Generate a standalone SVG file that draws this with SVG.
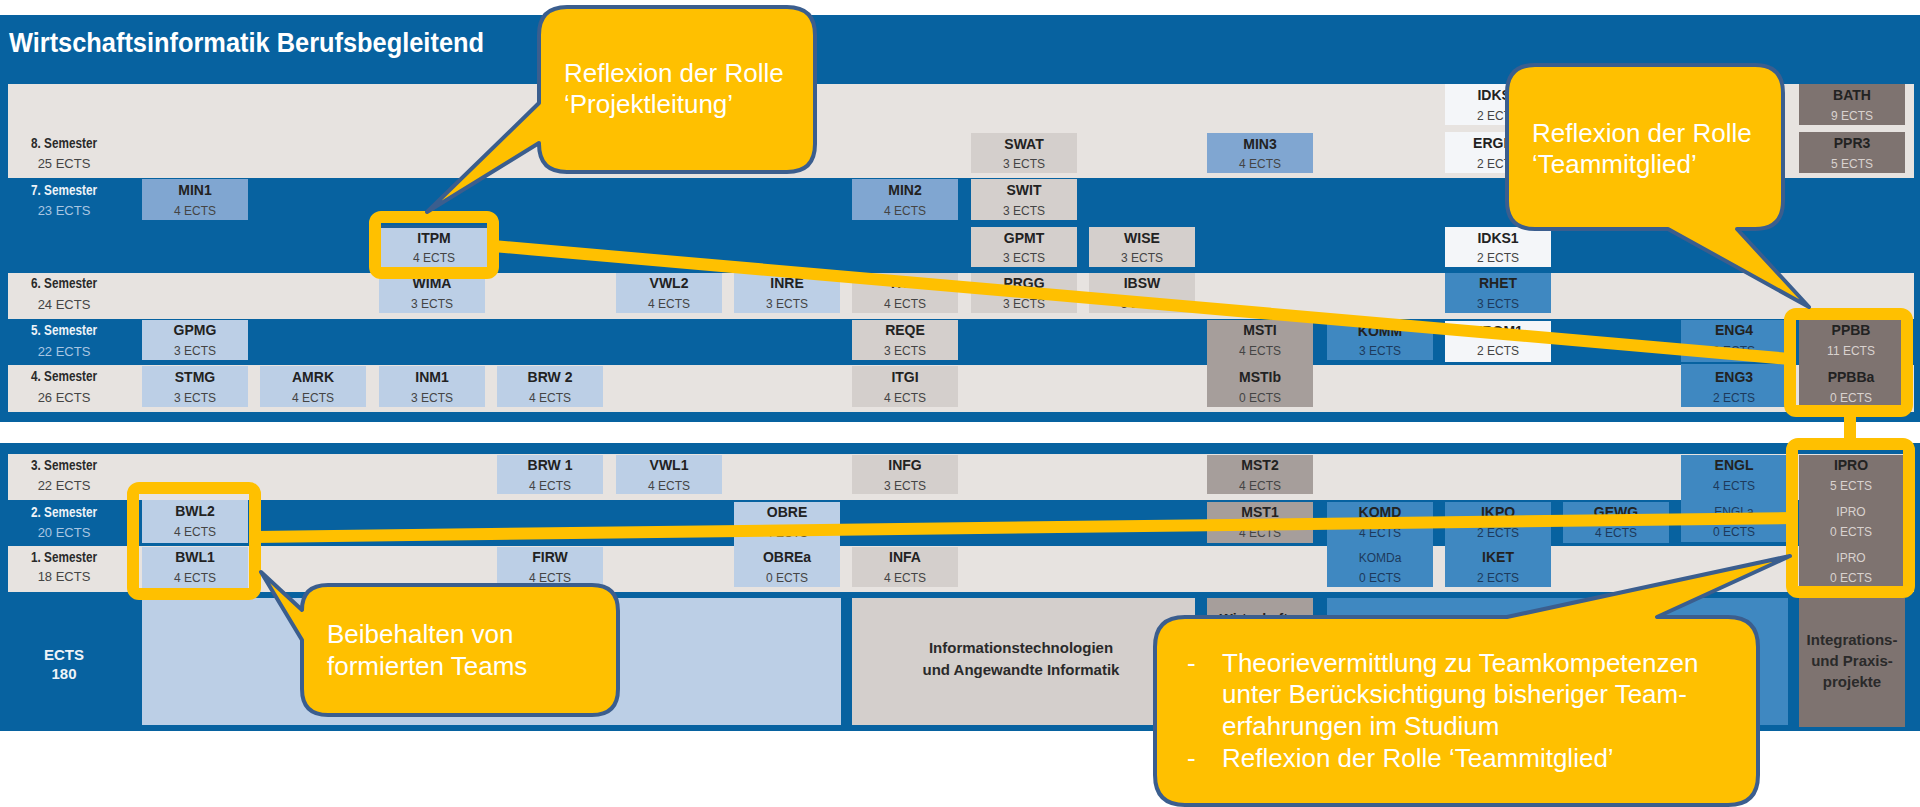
<svg xmlns="http://www.w3.org/2000/svg" width="1920" height="807" viewBox="0 0 1920 807">
<style>
.bg{fill:#0762a0}
.row{fill:#e7e3e0}
.lb{fill:#bccfe6}
.gr{fill:#d4cfcc}
.mb{fill:#80a6d1}
.db{fill:#3f88c1}
.wh{fill:#f4f6f9}
.tp{fill:#a69e9b}
.dt{fill:#7e7370}
.n{font-family:'Liberation Sans',Arial,sans-serif;font-weight:bold;font-size:14px;fill:#222;text-anchor:middle}
.e{font-family:'Liberation Sans',Arial,sans-serif;font-size:12px;fill:#444;text-anchor:middle}
.el{font-family:'Liberation Sans',Arial,sans-serif;font-size:12px;fill:#d9d2cf;text-anchor:middle}
.sn{font-family:'Liberation Sans',Arial,sans-serif;font-weight:bold;font-size:15px;fill:#2a2a2a;text-anchor:middle}
.se{font-family:'Liberation Sans',Arial,sans-serif;font-size:13px;fill:#444;text-anchor:middle}
.snw{font-family:'Liberation Sans',Arial,sans-serif;font-weight:bold;font-size:15px;fill:#eef3f8;text-anchor:middle}
.sew{font-family:'Liberation Sans',Arial,sans-serif;font-size:13px;fill:#a9c6e2;text-anchor:middle}
.big{font-family:'Liberation Sans',Arial,sans-serif;font-weight:bold;font-size:15px;fill:#2a2a2a;text-anchor:middle}
.hl{fill:none;stroke:#ffc000;stroke-width:12}
.conn{stroke:#ffc000;stroke-width:12;fill:none}
.call{fill:#ffc000;stroke:#3b5e8e;stroke-width:4;stroke-linejoin:round}
.ct{font-family:'Liberation Sans',Arial,sans-serif;font-size:26px;fill:#ffffff}
</style>

<!-- panels -->
<g id="panels">
  <rect class="bg" x="0" y="15" width="1920" height="407"/>
  <rect class="bg" x="0" y="443" width="1920" height="288"/>
  <text x="9" y="52" font-family="'Liberation Sans',Arial,sans-serif" font-weight="bold" font-size="28" fill="#ffffff" textLength="475" lengthAdjust="spacingAndGlyphs">Wirtschaftsinformatik Berufsbegleitend</text>
  <rect class="row" x="8" y="84" width="1906" height="94"/>
  <rect class="row" x="8" y="273" width="1906" height="46"/>
  <rect class="row" x="8" y="365" width="1906" height="47"/>
  <rect class="row" x="8" y="454" width="1906" height="46"/>
  <rect class="row" x="8" y="546" width="1906" height="46"/>
</g>

<!-- semester labels -->
<g id="semesters">
  <text class="sn" x="64" y="148" textLength="66" lengthAdjust="spacingAndGlyphs">8. Semester</text><text class="se" x="64" y="168">25 ECTS</text>
  <text class="snw" x="64" y="195" textLength="66" lengthAdjust="spacingAndGlyphs">7. Semester</text><text class="sew" x="64" y="215">23 ECTS</text>
  <text class="sn" x="64" y="288" textLength="66" lengthAdjust="spacingAndGlyphs">6. Semester</text><text class="se" x="64" y="309">24 ECTS</text>
  <text class="snw" x="64" y="335" textLength="66" lengthAdjust="spacingAndGlyphs">5. Semester</text><text class="sew" x="64" y="356">22 ECTS</text>
  <text class="sn" x="64" y="381" textLength="66" lengthAdjust="spacingAndGlyphs">4. Semester</text><text class="se" x="64" y="402">26 ECTS</text>
  <text class="sn" x="64" y="470" textLength="66" lengthAdjust="spacingAndGlyphs">3. Semester</text><text class="se" x="64" y="490">22 ECTS</text>
  <text class="snw" x="64" y="517" textLength="66" lengthAdjust="spacingAndGlyphs">2. Semester</text><text class="sew" x="64" y="537">20 ECTS</text>
  <text class="sn" x="64" y="562" textLength="66" lengthAdjust="spacingAndGlyphs">1. Semester</text><text class="se" x="64" y="581">18 ECTS</text>
  <text class="snw" x="64" y="660">ECTS</text><text class="snw" x="64" y="679">180</text>
</g>

<!-- modules: semester 8 -->
<g id="m-SWAT"><rect class="gr" x="971" y="133" width="106" height="40"/><text class="n" x="1024" y="149">SWAT</text><text class="e" x="1024" y="168">3 ECTS</text></g>
<g id="m-MIN3"><rect class="mb" x="1207" y="133" width="106" height="40"/><text class="n" x="1260" y="149">MIN3</text><text class="e" x="1260" y="168">4 ECTS</text></g>
<g id="m-IDKS2"><rect class="wh" x="1445" y="84" width="106" height="41"/><text class="n" x="1498" y="100">IDKS2</text><text class="e" x="1498" y="120">2 ECTS</text></g>
<g id="m-ERGM2"><rect class="wh" x="1445" y="132" width="106" height="41"/><text class="n" x="1498" y="148">ERGM2</text><text class="e" x="1498" y="168">2 ECTS</text></g>
<g id="m-BATH"><rect class="dt" x="1799" y="84" width="106" height="41"/><text class="n" x="1852" y="100">BATH</text><text class="el" x="1852" y="120">9 ECTS</text></g>
<g id="m-PPR3"><rect class="dt" x="1799" y="132" width="106" height="41"/><text class="n" x="1852" y="148">PPR3</text><text class="el" x="1852" y="168">5 ECTS</text></g>

<!-- semester 7 -->
<g id="m-MIN1"><rect class="mb" x="142" y="179" width="106" height="41"/><text class="n" x="195" y="195">MIN1</text><text class="e" x="195" y="215">4 ECTS</text></g>
<g id="m-MIN2"><rect class="mb" x="852" y="179" width="106" height="41"/><text class="n" x="905" y="195">MIN2</text><text class="e" x="905" y="215">4 ECTS</text></g>
<g id="m-SWIT"><rect class="gr" x="971" y="179" width="106" height="41"/><text class="n" x="1024" y="195">SWIT</text><text class="e" x="1024" y="215">3 ECTS</text></g>
<g id="m-ITPM"><rect class="lb" x="381" y="225" width="106" height="42"/><rect x="381" y="225" width="106" height="3" fill="#1f5f97"/><text class="n" x="434" y="243">ITPM</text><text class="e" x="434" y="262">4 ECTS</text></g>
<g id="m-GPMT"><rect class="gr" x="971" y="227" width="106" height="40"/><text class="n" x="1024" y="243">GPMT</text><text class="e" x="1024" y="262">3 ECTS</text></g>
<g id="m-WISE"><rect class="gr" x="1089" y="227" width="106" height="40"/><text class="n" x="1142" y="243">WISE</text><text class="e" x="1142" y="262">3 ECTS</text></g>
<g id="m-IDKS1"><rect class="wh" x="1445" y="227" width="106" height="40"/><text class="n" x="1498" y="243">IDKS1</text><text class="e" x="1498" y="262">2 ECTS</text></g>

<!-- semester 6 -->
<g id="m-WIMA"><rect class="lb" x="379" y="273" width="106" height="40"/><text class="n" x="432" y="288">WIMA</text><text class="e" x="432" y="308">3 ECTS</text></g>
<g id="m-VWL2"><rect class="lb" x="616" y="273" width="106" height="40"/><text class="n" x="669" y="288">VWL2</text><text class="e" x="669" y="308">4 ECTS</text></g>
<g id="m-INRE"><rect class="lb" x="734" y="273" width="106" height="40"/><text class="n" x="787" y="288">INRE</text><text class="e" x="787" y="308">3 ECTS</text></g>
<g id="m-ITIM"><rect class="gr" x="852" y="273" width="106" height="40"/><text class="n" x="905" y="288">ITIM</text><text class="e" x="905" y="308">4 ECTS</text></g>
<g id="m-PRGG"><rect class="gr" x="971" y="273" width="106" height="40"/><text class="n" x="1024" y="288">PRGG</text><text class="e" x="1024" y="308">3 ECTS</text></g>
<g id="m-IBSW"><rect class="gr" x="1089" y="273" width="106" height="40"/><text class="n" x="1142" y="288">IBSW</text><text class="e" x="1142" y="308">3 ECTS</text></g>
<g id="m-RHET"><rect class="db" x="1445" y="273" width="106" height="40"/><text class="n" x="1498" y="288">RHET</text><text class="e" x="1498" y="308" style="fill:#1d3a5c">3 ECTS</text></g>

<!-- semester 5 -->
<g id="m-GPMG"><rect class="lb" x="142" y="320" width="106" height="40"/><text class="n" x="195" y="335">GPMG</text><text class="e" x="195" y="355">3 ECTS</text></g>
<g id="m-REQE"><rect class="gr" x="852" y="320" width="106" height="40"/><text class="n" x="905" y="335">REQE</text><text class="e" x="905" y="355">3 ECTS</text></g>
<g id="m-MSTI"><rect class="tp" x="1207" y="320" width="106" height="87"/><text class="n" x="1260" y="335">MSTI</text><text class="e" x="1260" y="355">4 ECTS</text><text class="n" x="1260" y="382">MSTIb</text><text class="e" x="1260" y="402">0 ECTS</text></g>
<g id="m-KOMM"><rect class="db" x="1327" y="322" width="106" height="38"/><text class="n" x="1380" y="336">KOMM</text><text class="e" x="1380" y="355" style="fill:#1d3a5c">3 ECTS</text></g>
<g id="m-ERGM1"><rect class="wh" x="1445" y="321" width="106" height="41"/><text class="n" x="1498" y="336">ERGM1</text><text class="e" x="1498" y="355">2 ECTS</text></g>
<g id="m-ENG4"><rect class="db" x="1681" y="320" width="106" height="42"/><text class="n" x="1734" y="335">ENG4</text><text class="e" x="1734" y="355" style="fill:#1d3a5c">2 ECTS</text></g>
<g id="m-PPBB"><rect class="dt" x="1799" y="320" width="104" height="87"/><text class="n" x="1851" y="335">PPBB</text><text class="el" x="1851" y="355">11 ECTS</text><text class="n" x="1851" y="382">PPBBa</text><text class="el" x="1851" y="402">0 ECTS</text></g>

<!-- semester 4 -->
<g id="m-STMG"><rect class="lb" x="142" y="366" width="106" height="41"/><text class="n" x="195" y="382">STMG</text><text class="e" x="195" y="402">3 ECTS</text></g>
<g id="m-AMRK"><rect class="lb" x="260" y="366" width="106" height="41"/><text class="n" x="313" y="382">AMRK</text><text class="e" x="313" y="402">4 ECTS</text></g>
<g id="m-INM1"><rect class="lb" x="379" y="366" width="106" height="41"/><text class="n" x="432" y="382">INM1</text><text class="e" x="432" y="402">3 ECTS</text></g>
<g id="m-BRW2"><rect class="lb" x="497" y="366" width="106" height="41"/><text class="n" x="550" y="382">BRW 2</text><text class="e" x="550" y="402">4 ECTS</text></g>
<g id="m-ITGI"><rect class="gr" x="852" y="366" width="106" height="41"/><text class="n" x="905" y="382">ITGI</text><text class="e" x="905" y="402">4 ECTS</text></g>
<g id="m-ENG3"><rect class="db" x="1681" y="364" width="106" height="43"/><text class="n" x="1734" y="382">ENG3</text><text class="e" x="1734" y="402" style="fill:#1d3a5c">2 ECTS</text></g>

<!-- semester 3 -->
<g id="m-BRW1"><rect class="lb" x="497" y="455" width="106" height="39"/><text class="n" x="550" y="470">BRW 1</text><text class="e" x="550" y="490">4 ECTS</text></g>
<g id="m-VWL1"><rect class="lb" x="616" y="455" width="106" height="39"/><text class="n" x="669" y="470">VWL1</text><text class="e" x="669" y="490">4 ECTS</text></g>
<g id="m-INFG"><rect class="gr" x="852" y="455" width="106" height="39"/><text class="n" x="905" y="470">INFG</text><text class="e" x="905" y="490">3 ECTS</text></g>
<g id="m-MST2"><rect class="tp" x="1207" y="455" width="106" height="39"/><text class="n" x="1260" y="470">MST2</text><text class="e" x="1260" y="490">4 ECTS</text></g>
<g id="m-ENGL"><rect class="db" x="1681" y="455" width="106" height="87"/><text class="n" x="1734" y="470">ENGL</text><text class="e" x="1734" y="490" style="fill:#1d3a5c">4 ECTS</text><text class="e" x="1734" y="516" style="fill:#1d3a5c">ENGLa</text><text class="e" x="1734" y="536" style="fill:#1d3a5c">0 ECTS</text></g>
<g id="m-IPRO"><rect class="dt" x="1799" y="455" width="104" height="132"/><text class="n" x="1851" y="470">IPRO</text><text class="el" x="1851" y="490">5 ECTS</text><text class="e" x="1851" y="516" style="fill:#d9d2cf">IPRO</text><text class="el" x="1851" y="536">0 ECTS</text><text class="e" x="1851" y="562" style="fill:#d9d2cf">IPRO</text><text class="el" x="1851" y="582">0 ECTS</text></g>

<!-- semester 2 -->
<g id="m-BWL2"><rect class="lb" x="142" y="500" width="106" height="43"/><text class="n" x="195" y="516">BWL2</text><text class="e" x="195" y="536">4 ECTS</text></g>
<g id="m-OBRE"><rect class="lb" x="734" y="502" width="106" height="85"/><text class="n" x="787" y="517">OBRE</text><text class="e" x="787" y="537">4 ECTS</text><text class="n" x="787" y="562">OBREa</text><text class="e" x="787" y="582">0 ECTS</text></g>
<g id="m-MST1"><rect class="tp" x="1207" y="502" width="106" height="41"/><text class="n" x="1260" y="517">MST1</text><text class="e" x="1260" y="537">4 ECTS</text></g>
<g id="m-KOMD"><rect class="db" x="1327" y="502" width="106" height="85"/><text class="n" x="1380" y="517">KOMD</text><text class="e" x="1380" y="537" style="fill:#1d3a5c">4 ECTS</text><text class="e" x="1380" y="562" style="fill:#1d3a5c">KOMDa</text><text class="e" x="1380" y="582" style="fill:#1d3a5c">0 ECTS</text></g>
<g id="m-IKPO"><rect class="db" x="1445" y="502" width="106" height="85"/><text class="n" x="1498" y="517">IKPO</text><text class="e" x="1498" y="537" style="fill:#1d3a5c">2 ECTS</text><text class="n" x="1498" y="562">IKET</text><text class="e" x="1498" y="582" style="fill:#1d3a5c">2 ECTS</text></g>
<g id="m-GEWG"><rect class="db" x="1563" y="502" width="106" height="41"/><text class="n" x="1616" y="517">GEWG</text><text class="e" x="1616" y="537" style="fill:#1d3a5c">4 ECTS</text></g>

<!-- semester 1 -->
<g id="m-BWL1"><rect class="lb" x="142" y="547" width="106" height="41"/><text class="n" x="195" y="562">BWL1</text><text class="e" x="195" y="582">4 ECTS</text></g>
<g id="m-FIRW"><rect class="lb" x="497" y="547" width="106" height="41"/><text class="n" x="550" y="562">FIRW</text><text class="e" x="550" y="582">4 ECTS</text></g>
<g id="m-INFA"><rect class="gr" x="852" y="547" width="106" height="40"/><text class="n" x="905" y="562">INFA</text><text class="e" x="905" y="582">4 ECTS</text></g>

<!-- category blocks -->
<g id="cat-wirtschaft"><rect class="lb" x="142" y="598" width="699" height="127"/></g>
<g id="cat-it"><rect class="gr" x="852" y="598" width="343" height="127"/><text class="big" x="1021" y="653">Informationstechnologien</text><text class="big" x="1021" y="675">und Angewandte Informatik</text></g>
<g id="cat-wi"><rect class="tp" x="1207" y="598" width="106" height="127"/><text class="n" x="1260" y="624">Wirtschafts-</text></g>
<g id="cat-komp"><rect class="db" x="1327" y="598" width="461" height="127"/></g>
<g id="cat-projekte"><rect class="dt" x="1799" y="598" width="106" height="129"/><text class="big" x="1852" y="645">Integrations-</text><text class="big" x="1852" y="666">und Praxis-</text><text class="big" x="1852" y="687">projekte</text></g>

<!-- connectors and highlights -->
<g id="connectors">
  <line class="conn" x1="493" y1="246" x2="1790" y2="359"/>
  <line class="conn" x1="255" y1="537" x2="1792" y2="518"/>
  <line class="conn" x1="1850" y1="411" x2="1850" y2="444"/>
  <rect class="hl" x="375" y="217" width="118" height="56" rx="6"/>
  <rect class="hl" x="1790" y="314" width="117" height="97" rx="6"/>
  <rect class="hl" x="1792" y="444" width="117" height="148" rx="6"/>
  <rect class="hl" x="133" y="488" width="122" height="106" rx="6"/>
</g>

<!-- callouts -->
<g id="callout-projektleitung">
  <path class="call" d="M567,7 H787 Q815,7 815,35 V144 Q815,172 787,172 H567 Q539,172 539,144 V143 L427,212 L539,103 V35 Q539,7 567,7 Z"/>
  <text class="ct" x="564" y="82">Reflexion der Rolle</text>
  <text class="ct" x="564" y="113">‘Projektleitung’</text>
</g>
<g id="callout-teammitglied">
  <path class="call" d="M1535,65 H1755 Q1783,65 1783,93 V201 Q1783,229 1755,229 H1737 L1809,307 L1668,229 H1535 Q1507,229 1507,201 V93 Q1507,65 1535,65 Z"/>
  <text class="ct" x="1532" y="142">Reflexion der Rolle</text>
  <text class="ct" x="1532" y="173">‘Teammitglied’</text>
</g>
<g id="callout-teams">
  <path class="call" d="M328,585 H592 Q618,585 618,611 V689 Q618,715 592,715 H328 Q302,715 302,689 V640 L261,572 L302,610 Q302,585 328,585 Z"/>
  <text class="ct" x="327" y="643">Beibehalten von</text>
  <text class="ct" x="327" y="675">formierten Teams</text>
</g>
<g id="callout-theorie">
  <path class="call" d="M1185,617 H1507 L1790,556 L1657,617 H1728 Q1758,617 1758,647 V775 Q1758,805 1728,805 H1185 Q1155,805 1155,775 V647 Q1155,617 1185,617 Z"/>
  <text class="ct" x="1187" y="672">-</text>
  <text class="ct" x="1222" y="672">Theorievermittlung zu Teamkompetenzen</text>
  <text class="ct" x="1222" y="703">unter Berücksichtigung bisheriger Team-</text>
  <text class="ct" x="1222" y="735">erfahrungen im Studium</text>
  <text class="ct" x="1187" y="767">-</text>
  <text class="ct" x="1222" y="767">Reflexion der Rolle ‘Teammitglied’</text>
</g>
</svg>
